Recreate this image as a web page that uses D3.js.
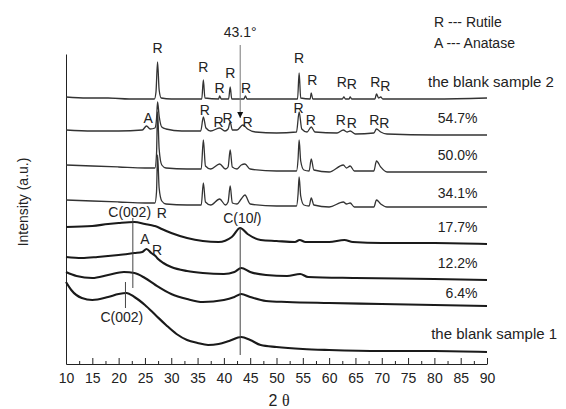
<!DOCTYPE html>
<html>
<head>
<meta charset="utf-8">
<script src="https://cdn.jsdelivr.net/npm/d3@7/dist/d3.min.js"></script>
<style>
  body { margin: 0; background: #fff; }
  text { font-family: "Liberation Sans", Arial, sans-serif; fill: #222; }
</style>
</head>
<body>
<div id="xrd-chart"></div>
<script>
// 2-theta tick labels
const xTicks = [10, 15, 20, 25, 30, 35, 40, 45, 50, 55, 60, 65, 70, 75, 80, 85, 90];
const xMinorTicks = [12.5, 17.5, 22.5, 27.5, 32.5, 37.5, 42.5, 47.5, 52.5, 57.5, 62.5, 67.5, 72.5, 77.5, 82.5, 87.5];

// series names, top to bottom
const seriesNames = ['the blank sample 2', '54.7%', '50.0%', '34.1%', '17.7%', '12.2%', '6.4%', 'the blank sample 1'];
// where each name sits (2theta, intensity)
const nameX = [78.8, 88.2, 88.2, 88.2, 88.2, 88.2, 88.2, 79.4];
const nameY = [282, 246, 209, 171, 137, 101, 71, 30];

// patterns, [2theta, intensity a.u.] (stacked, offsets included)
const blank2 = [[10,267],[14,266],[18,266],[22,265],[26.8,265],[27.1,272],[27.4,302],[27.7,274],[28.1,266],[30,265],
  [35.8,265],[36.1,284],[36.4,266],[39.0,265],[39.2,268],[39.5,265],[40.9,265],[41.2,277],[41.5,265],[43.8,265],
  [44.1,268],[44.4,265],[54.0,265],[54.3,291],[54.6,266],[56.4,265],[56.6,271],[56.9,265],[62.5,265],[62.8,267],
  [63.1,265],[63.8,265],[64.0,267],[64.3,265],[68.7,265],[69.0,270],[69.4,266],[69.8,267],[70.2,265],[80,265],[90,266]];
const s547 = [[10,234],[15,233],[20,233],[24.5,234],[25.3,238],[26,235],[26.9,236],[27.2,245],[27.4,262],[27.7,248],
  [28.2,237],[29,235],[32,233],[35.6,233],[36.1,247],[36.6,236],[37.5,233],[39.2,236],[40.2,233],[40.8,235],
  [41.2,242],[41.6,234],[42.5,234],[43.6,239],[44.5,235],[46,232],[50,231],[53.8,232],[54.3,252],[54.8,235],
  [55.8,232],[56.6,237],[57.3,232],[61.5,231],[62.7,234],[63.4,232],[64.0,233],[65,230],[68.5,231],[69.0,235],
  [69.8,232],[71,230],[80,229],[90,229]];
const s500 = [[10,199],[15,198],[20,197],[25,196],[26.9,196],[27.2,210],[27.4,252],[27.7,215],[28.2,199],[29,196],
  [33,195],[35.7,195],[36.1,224],[36.5,198],[37.5,195],[39.2,200],[40.3,195],[40.8,197],[41.2,214],[41.6,197],
  [42.5,195],[43.3,199],[44.0,200],[45,195],[50,193],[53.8,193],[54.1,205],[54.3,224],[54.6,203],[55.2,194],
  [56.2,193],[56.6,205],[57.1,194],[60,192],[62.7,199],[63.3,196],[64.0,198],[64.8,193],[68.5,193],[69.0,203],
  [69.8,197],[71,192],[80,192],[90,192]];
const s341 = [[10,164],[15,163],[20,162],[25,161],[26.9,161],[27.2,172],[27.4,209],[27.7,176],[28.2,163],[29,160],
  [33,159],[35.7,159],[36.1,181],[36.5,162],[37.5,159],[39.2,165],[40.3,159],[40.8,162],[41.2,178],[41.6,161],
  [42.5,160],[43.3,165],[44.0,169],[45,160],[50,158],[53.8,158],[54.1,170],[54.3,187],[54.6,168],[55.2,159],
  [56.2,158],[56.6,166],[57.1,159],[60,157],[62.7,162],[63.3,160],[64.0,161],[64.8,157],[68.5,157],[69.0,164],
  [69.8,160],[71,157],[80,157],[90,157]];
const s177 = [[10,137],[15,138],[18,140],[20,141],[23,142],[25,140],[26.8,138],[27.4,137],[28.2,135],[30,131],
  [33,126],[36,123],[39,122],[41.5,127],[43.1,136],[44.5,130],[47,124],[50,123],[53.5,122],[54.4,124],
  [55.5,122],[60,122],[62.9,124],[64.5,122],[70,121],[80,121],[90,120]];
const s122 = [[10,107],[13,106],[16,107],[20,109],[23,111],[24.5,112],[25.3,115],[26.2,111],[27.0,108],[27.5,105],
  [28.5,101],[30,97],[33,93],[36,91],[40,90],[42,92],[43.3,96],[45,92],[48,89],[52,88],[54.5,90],[56,87],
  [65,86],[80,85],[90,84]];
const s64 = [[10,92],[12,88],[15,86],[18,89],[21,92],[23,91],[25,86],[27,79],[30,70],[33,65],[36,62],[40,64],
  [42,67],[43.3,70],[45,67],[48,63],[52,62],[60,61],[70,60],[80,59],[90,58]];
const blank1 = [[10,82],[11,74],[13,66],[15,64],[18,67],[20,70],[21.5,71],[23,67],[25,59],[27,49],[29,39],[31,30],
  [33,24],[35,21],[37,19],[39,20],[41,23],[43.3,27],[45,24],[47,19],[50,17],[55,15],[60,14],[70,13],[80,13],[90,12]];

const seriesData = [blank2, s547, s500, s341, s177, s122, s64, blank1];

// phase labels: [text, 2theta, intensity]
const peakLabels = [
  ['R',27.4,316],['R',36.1,297],['R',39.2,276],['R',41.2,291],['R',44.2,276],['R',54.3,306],['R',56.8,284],
  ['R',62.4,282],['R',64.3,280],['R',68.8,282],['R',70.7,278],
  ['A',25.6,246],['R',36.4,254],['R',39.0,242],['R',40.7,246],['R',44.5,242],['R',54.2,256],['R',56.5,244],
  ['R',62.2,244],['R',64.3,241],['R',68.6,244],['R',70.5,241],
  ['C(002)',22.1,152],['R',28.2,151],['A',25.0,125],['R',27.3,114],['C(002)',20.6,47]
];
// marker lines: [2theta, top, bottom]
const markerLines = [[43.1,136,9],[22.7,146,76],[21.3,82,56]];

const W = 566, H = 409;
const margin = {top: 54, right: 79, bottom: 45, left: 66};

const svg = d3.select('#xrd-chart').append('svg')
  .attr('width', W)
  .attr('height', H);

const x = d3.scaleLinear().domain([10, 90]).range([margin.left, W - margin.right]);
const y = d3.scaleLinear().domain([0, 310]).range([H - margin.bottom, margin.top]);

// axes
const xAxis = svg.append('g')
  .attr('transform', 'translate(0,' + (H - margin.bottom) + ')')
  .call(d3.axisBottom(x).tickValues(xTicks).tickSizeInner(-6).tickSizeOuter(0).tickPadding(9));
xAxis.selectAll('text').style('font-size', '14px').attr('fill', '#222');
xAxis.append('g')
  .call(d3.axisBottom(x).tickValues(xMinorTicks).tickSizeInner(-3).tickSizeOuter(0).tickFormat(''))
  .select('.domain').remove();
svg.selectAll('.tick line, .domain').attr('stroke', '#222');

svg.append('g')
  .attr('transform', 'translate(' + margin.left + ',0)')
  .call(d3.axisLeft(y).tickValues([]).tickSizeOuter(0))
  .select('.domain').attr('stroke', '#222');

// patterns
const line = d3.line()
  .x(d => x(d[0]))
  .y(d => y(d[1]))
  .curve(d3.curveMonotoneX);

svg.append('g').selectAll('path')
  .data(seriesData)
  .join('path')
  .attr('d', line)
  .attr('fill', 'none')
  .attr('stroke', (d, i) => i < 4 ? '#333' : '#1a1a1a')
  .attr('stroke-width', (d, i) => i < 4 ? 1.3 : 2.1)
  .attr('stroke-linejoin', 'round');

// series names
svg.append('g').selectAll('text')
  .data(seriesNames)
  .join('text')
  .attr('x', (d, i) => x(nameX[i]))
  .attr('y', (d, i) => y(nameY[i]))
  .attr('dy', '0.35em')
  .attr('text-anchor', (d, i) => d.indexOf('%') > 0 ? 'end' : 'start')
  .style('font-size', d => d.indexOf('%') > 0 ? '14px' : '15px')
  .text(d => d);

// marker lines
svg.append('g').selectAll('line')
  .data(markerLines)
  .join('line')
  .attr('x1', d => x(d[0])).attr('x2', d => x(d[0]))
  .attr('y1', d => y(d[1])).attr('y2', d => y(d[2]))
  .attr('stroke', '#444')
  .attr('stroke-width', 1);

// 43.1 arrow
svg.append('defs').append('marker')
  .attr('id', 'arrow')
  .attr('viewBox', '0 0 10 10')
  .attr('refX', 10).attr('refY', 5)
  .attr('markerWidth', 6).attr('markerHeight', 7)
  .attr('orient', 'auto')
  .append('path').attr('d', 'M0,0L10,5L0,10z').attr('fill', '#111');
svg.append('line')
  .attr('x1', x(43.1)).attr('x2', x(43.1))
  .attr('y1', y(319)).attr('y2', y(246))
  .attr('stroke', '#777')
  .attr('marker-end', 'url(#arrow)');
svg.append('text')
  .attr('x', x(43.1)).attr('y', y(332))
  .attr('dy', '0.35em')
  .attr('text-anchor', 'middle')
  .style('font-size', '14px')
  .text('43.1°');

// phase labels
svg.append('g').selectAll('text')
  .data(peakLabels)
  .join('text')
  .attr('x', d => x(d[1]))
  .attr('y', d => y(d[2]))
  .attr('dy', '0.35em')
  .attr('text-anchor', 'middle')
  .style('font-size', '14px')
  .text(d => d[0]);

const c10 = svg.append('text')
  .attr('x', x(43.5)).attr('y', y(146))
  .attr('dy', '0.35em')
  .attr('text-anchor', 'middle')
  .style('font-size', '14px');
c10.append('tspan').text('C(10');
c10.append('tspan').style('font-style', 'italic').text('l');
c10.append('tspan').text(')');

// legend
svg.append('text').attr('x', 434).attr('y', 22).attr('dy', '0.35em')
  .style('font-size', '14px').text('R --- Rutile');
svg.append('text').attr('x', 434).attr('y', 43).attr('dy', '0.35em')
  .style('font-size', '14px').text('A --- Anatase');

// axis titles
const xt = svg.append('text')
  .attr('x', x(50.5)).attr('y', 406)
  .attr('text-anchor', 'middle')
  .style('font-size', '16px');
xt.append('tspan').text('2 ');
xt.append('tspan').style('font-family', '"Liberation Serif", serif').text('θ');

svg.append('text')
  .attr('transform', 'translate(23,' + 202 + ') rotate(-90)')
  .attr('dy', '0.35em')
  .attr('text-anchor', 'middle')
  .style('font-size', '14px')
  .text('Intensity (a.u.)');
</script>
</body>
</html>
